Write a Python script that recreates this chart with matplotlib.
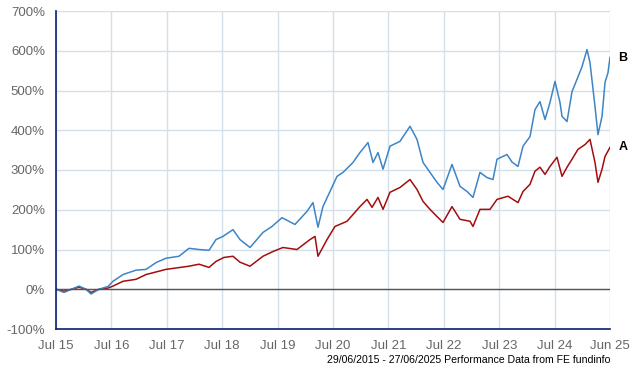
import matplotlib.pyplot as plt

# years since 29/06/2015 and cumulative performance in %
t_b = [0.000, 0.144, 0.415, 0.542, 0.632, 0.776, 0.939, 1.029, 1.209, 1.444, 1.625,
       1.805, 1.986, 2.220, 2.401, 2.581, 2.762, 2.888, 3.014, 3.195, 3.321, 3.502,
       3.736, 3.899, 4.079, 4.314, 4.531, 4.639, 4.729, 4.819, 4.946, 5.072, 5.181,
       5.361, 5.487, 5.632, 5.722, 5.812, 5.903, 6.029, 6.209, 6.390, 6.516, 6.625,
       6.751, 6.877, 6.986, 7.148, 7.292, 7.419, 7.527, 7.653, 7.780, 7.888, 7.960,
       8.141, 8.231, 8.339, 8.430, 8.556, 8.646, 8.736, 8.827, 8.917, 9.007, 9.097,
       9.134, 9.224, 9.314, 9.404, 9.495, 9.585, 9.639, 9.729, 9.783, 9.856, 9.910,
       9.964, 10.000]
b_val = [0, -8, 8, 0, -12, 0, 7, 20, 37, 48, 50,
         67, 78, 83, 103, 100, 98, 125, 133, 150, 125, 105,
         143, 158, 180, 163, 196, 218, 156, 208, 246, 284, 294,
         319, 344, 369, 319, 344, 302, 360, 372, 410, 377, 319,
         294, 269, 251, 314, 259, 246, 231, 294, 281, 276, 327,
         339, 320, 309, 360, 384, 452, 472, 427, 470, 523, 470,
         435, 422, 497, 528, 560, 603, 570, 460, 389, 435, 520,
         545, 583]

t_a = [0.000, 0.144, 0.415, 0.542, 0.632, 0.776, 0.939, 1.029, 1.209, 1.444, 1.625,
       1.986, 2.401, 2.581, 2.762, 2.888, 3.032, 3.195, 3.321, 3.502, 3.736, 3.917,
       4.097, 4.350, 4.585, 4.675, 4.729, 4.892, 5.036, 5.253, 5.361, 5.487, 5.614,
       5.704, 5.812, 5.903, 6.029, 6.209, 6.390, 6.516, 6.625, 6.751, 6.877, 6.986,
       7.148, 7.292, 7.473, 7.527, 7.653, 7.834, 7.960, 8.159, 8.339, 8.430, 8.556,
       8.646, 8.736, 8.827, 8.917, 9.043, 9.134, 9.224, 9.314, 9.422, 9.549, 9.639,
       9.729, 9.783, 9.856, 9.910, 10.000]
a_val = [0, -5, 5, 0, -8, 0, 3, 8, 20, 25, 37,
         50, 58, 63, 55, 70, 80, 83, 68, 58, 83, 95,
         105, 100, 125, 133, 83, 125, 158, 171, 188, 208, 226,
         206, 231, 201, 244, 256, 276, 251, 221, 201, 183, 168,
         208, 176, 171, 158, 201, 201, 226, 234, 218, 246, 264,
         297, 307, 289, 309, 332, 284, 307, 327, 352, 364, 377,
         319, 269, 302, 334, 357]

xlabels = ['Jul 15', 'Jul 16', 'Jul 17', 'Jul 18', 'Jul 19', 'Jul 20',
           'Jul 21', 'Jul 22', 'Jul 23', 'Jul 24', 'Jun 25']
yticks = list(range(-100, 701, 100))

blue = '#3d85c6'
red = '#a50d0d'
grid_c = '#d3e0ea'
navy = '#0a1f7a'

fig = plt.figure(figsize=(6.4, 3.7), dpi=100)
ax = fig.add_axes([56 / 640, 1 - 329 / 370, 554 / 640, 318 / 370])

ax.plot(t_a, a_val, color=red, linewidth=1.1)
ax.plot(t_b, b_val, color=blue, linewidth=1.1)
ax.axhline(0, color='#555555', linewidth=1)

ax.set_xlim(0, 10)
ax.set_ylim(-100, 700)
ax.set_xticks(range(len(xlabels)))
ax.set_xticklabels(xlabels)
ax.set_yticks(yticks)
ax.set_yticklabels([f'{v}%' for v in yticks])
ax.grid(True, color=grid_c, linewidth=1)
ax.set_axisbelow(True)
ax.tick_params(length=0, labelsize=9.5, colors='#666666', pad=8)
for lab in ax.get_xticklabels() + ax.get_yticklabels():
    lab.set_family('Liberation Sans')

ax.spines['top'].set_visible(False)
ax.spines['right'].set_visible(False)
for side in ['left', 'bottom']:
    ax.spines[side].set_color(navy)
    ax.spines[side].set_linewidth(1.2)

ax.annotate('B', (t_b[-1], b_val[-1]), xytext=(6, 0), textcoords='offset points',
            fontsize=9, fontweight='bold', va='center', family='Liberation Sans')
ax.annotate('A', (t_a[-1], a_val[-1]), xytext=(6, 0), textcoords='offset points',
            fontsize=9, fontweight='bold', va='center', family='Liberation Sans')

fig.text(610 / 640, 1 - 360 / 370, '29/06/2015 - 27/06/2025 Performance Data from FE fundinfo',
         ha='right', va='center', fontsize=7.6, family='Liberation Sans')

fig.savefig('out.png', dpi=100)
